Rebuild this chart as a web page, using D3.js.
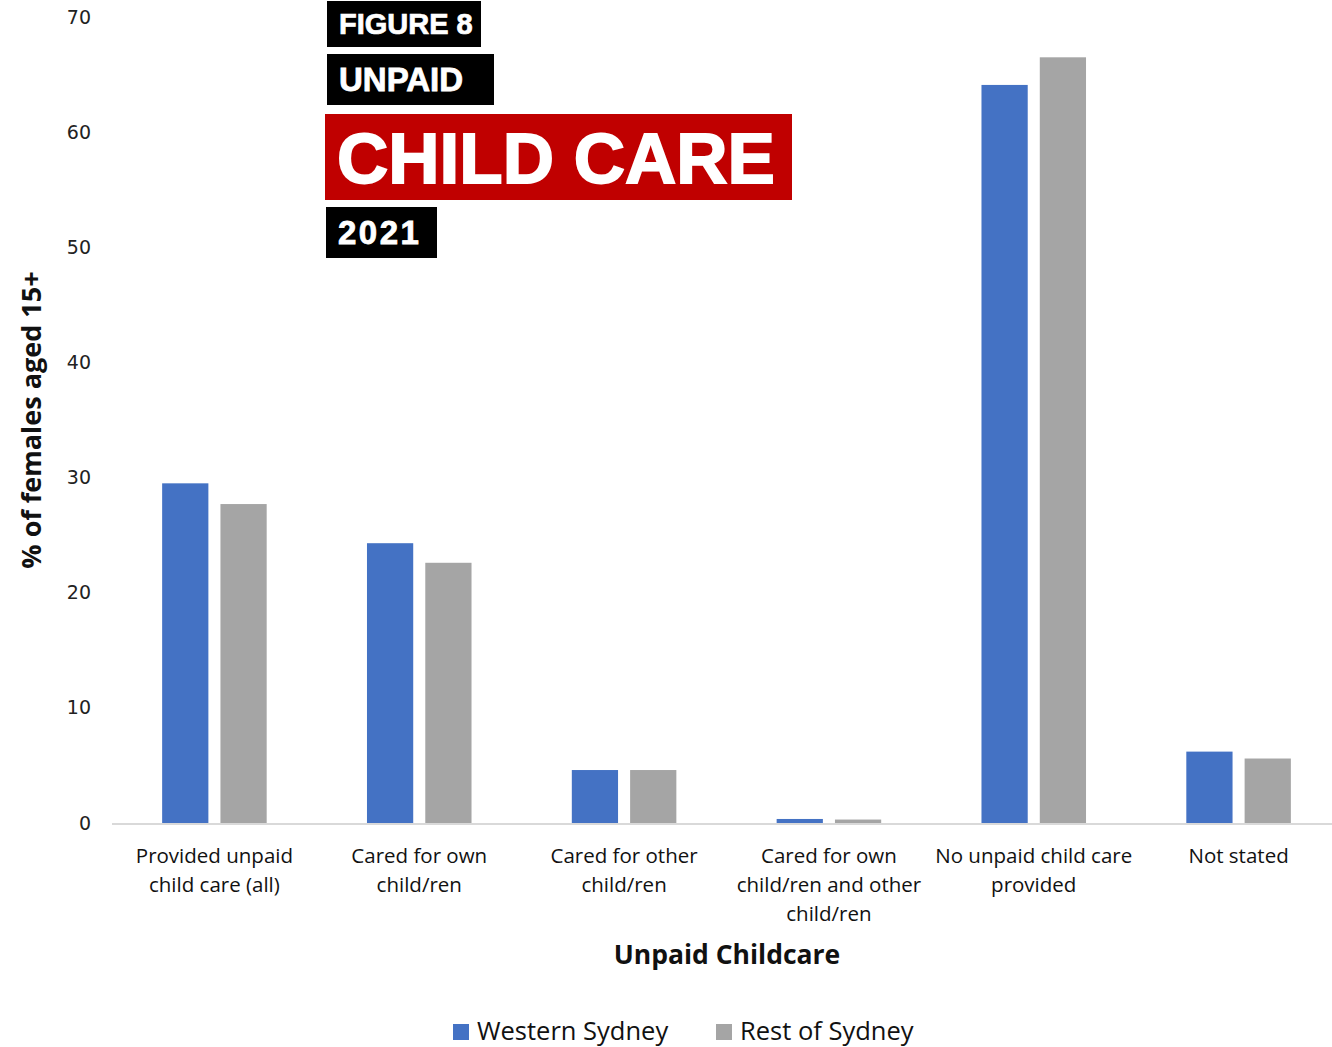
<!DOCTYPE html>
<html>
<head>
<meta charset="utf-8">
<script src="https://cdnjs.cloudflare.com/ajax/libs/d3/7.8.5/d3.min.js"></script>
<style>
  body { margin: 0; background: #fff; overflow: hidden; }
  svg { display: block; }
</style>
</head>
<body>
<div id="chart"></div>
<script>
// Chart data
const categories = [
    ['Provided unpaid', 'child care (all)'],
    ['Cared for own', 'child/ren'],
    ['Cared for other', 'child/ren'],
    ['Cared for own', 'child/ren and other', 'child/ren'],
    ['No unpaid child care', 'provided'],
    ['Not stated']
];
const seriesNames = ['Western Sydney', 'Rest of Sydney'];
const westernSydney = [29.5, 24.3, 4.6, 0.35, 64.1, 6.2];
const restOfSydney = [27.7, 22.6, 4.6, 0.3, 66.5, 5.6];
const yTicks = [0, 10, 20, 30, 40, 50, 60, 70];
const titleLines = ['FIGURE 8', 'UNPAID', 'CHILD CARE', '2021'];

const width = 1332, height = 1047;
// plot area runs slightly past the right edge, like the original export
const margin = { top: 17, right: -9, bottom: 224, left: 112 };
const colors = ['#4472C4', '#A5A5A5'];

const svg = d3.select('#chart')
    .append('svg')
    .attr('width', width)
    .attr('height', height);

const x = d3.scaleBand()
    .domain(d3.range(categories.length))
    .range([margin.left, width - margin.right]);

const xInner = d3.scaleBand()
    .domain(d3.range(seriesNames.length))
    .range([0, x.bandwidth()])
    .paddingInner(0.207)
    .paddingOuter(0.86);

const y = d3.scaleLinear()
    .domain([0, 70])
    .range([height - margin.bottom, margin.top]);

// Y tick labels (no axis line)
const yAxis = svg.append('g')
    .attr('transform', `translate(${margin.left - 21},0)`)
    .call(d3.axisLeft(y).tickValues(yTicks).tickSize(0).tickPadding(0));
yAxis.select('.domain').remove();
yAxis.selectAll('text')
    .attr('font-family', 'DejaVu Sans, sans-serif')
    .attr('font-size', '19px')
    .attr('fill', '#222');

// Bars
const series = [westernSydney, restOfSydney];
series.forEach((vals, si) => {
    svg.append('g')
        .selectAll('rect')
        .data(vals)
        .enter()
        .append('rect')
        .attr('x', (d, i) => x(i) + xInner(si))
        .attr('y', d => y(d))
        .attr('width', xInner.bandwidth())
        .attr('height', d => y(0) - y(d))
        .attr('fill', colors[si]);
});

// Baseline
svg.append('line')
    .attr('x1', margin.left)
    .attr('x2', width)
    .attr('y1', y(0) + 1)
    .attr('y2', y(0) + 1)
    .attr('stroke', '#d9d9d9')
    .attr('stroke-width', 2);

// Category labels
const catLabels = svg.append('g')
    .selectAll('text')
    .data(categories)
    .enter()
    .append('text')
    .attr('x', (d, i) => x(i) + x.bandwidth() / 2)
    .attr('y', 863)
    .attr('text-anchor', 'middle')
    .attr('font-family', 'Open Sans, sans-serif')
    .attr('font-size', '20.5px')
    .attr('fill', '#111');
catLabels.each(function(lines) {
    const t = d3.select(this);
    lines.forEach((line, li) => {
        t.append('tspan')
            .attr('x', t.attr('x'))
            .attr('dy', li === 0 ? 0 : 29)
            .text(line);
    });
});

// Axis titles
svg.append('text')
    .attr('x', 727)
    .attr('y', 964)
    .attr('text-anchor', 'middle')
    .attr('font-family', 'Open Sans, sans-serif')
    .attr('font-weight', 'bold')
    .attr('font-size', '26.5px')
    .attr('fill', '#111')
    .text('Unpaid Childcare');

svg.append('text')
    .attr('transform', 'translate(41,420) rotate(-90)')
    .attr('text-anchor', 'middle')
    .attr('font-family', 'Open Sans, sans-serif')
    .attr('font-weight', 'bold')
    .attr('font-size', '27px')
    .attr('fill', '#111')
    .text('% of females aged 15+');

// Legend
const legendItems = [
    { name: seriesNames[0], color: colors[0], x: 453 },
    { name: seriesNames[1], color: colors[1], x: 716 }
];
const legend = svg.append('g');
legendItems.forEach(item => {
    legend.append('rect')
        .attr('x', item.x)
        .attr('y', 1024)
        .attr('width', 16)
        .attr('height', 16)
        .attr('fill', item.color);
    legend.append('text')
        .attr('x', item.x + 24)
        .attr('y', 1040)
        .attr('font-family', 'Open Sans, sans-serif')
        .attr('font-size', '25.5px')
        .attr('fill', '#111')
        .text(item.name);
});

// Title badges
const badges = [
    { text: titleLines[0], x: 327, y: 1, w: 154, h: 46, fill: '#000', size: 29, ls: 0 },
    { text: titleLines[1], x: 327, y: 54, w: 167, h: 51, fill: '#000', size: 33, ls: 0 },
    { text: titleLines[2], x: 325, y: 114, w: 467, h: 86, fill: '#C00000', size: 71, ls: 0 },
    { text: titleLines[3], x: 326, y: 207, w: 111, h: 51, fill: '#000', size: 33, ls: 2.5 }
];
badges.forEach(b => {
    svg.append('rect')
        .attr('x', b.x)
        .attr('y', b.y)
        .attr('width', b.w)
        .attr('height', b.h)
        .attr('fill', b.fill);
    svg.append('text')
        .attr('x', b.x + 12)
        .attr('y', b.y + b.h / 2)
        .attr('dy', '0.36em')
        .attr('font-family', 'Liberation Sans, Arial, sans-serif')
        .attr('font-weight', 'bold')
        .attr('font-size', b.size + 'px')
        .attr('letter-spacing', b.ls)
        .attr('fill', '#fff')
        .attr('stroke', '#fff')
        .attr('stroke-width', b.size / 40)
        .text(b.text);
});
</script>
</body>
</html>
